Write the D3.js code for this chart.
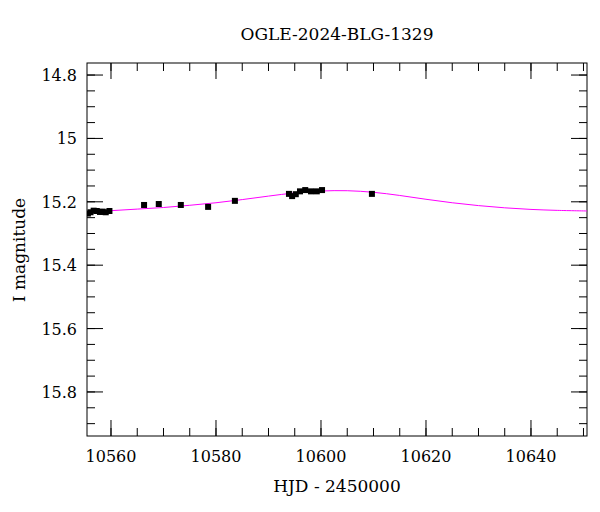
<!DOCTYPE html>
<html lang="en">
<head>
<meta charset="utf-8">
<script src="https://cdn.jsdelivr.net/npm/d3@7"></script>
<style>
  body { margin: 0; background: #fff; }
  text { font-family: "DejaVu Serif", serif; }
</style>
</head>
<body>
<script>
    var obsHjd = [10555.6, 10556.1, 10556.7, 10557.3, 10557.9, 10558.4, 10559.0, 10559.7,
        10566.3, 10569.1, 10573.3, 10578.5, 10583.6,
        10593.9, 10594.5, 10595.2, 10596.0, 10597.0, 10598.1, 10599.2, 10600.2, 10609.7];
    var obsMag = [15.237, 15.233, 15.228, 15.229, 15.232, 15.231, 15.233, 15.229,
        15.210, 15.207, 15.210, 15.216, 15.197,
        15.175, 15.182, 15.176, 15.167, 15.163, 15.167, 15.167, 15.163, 15.175];
    var obsErr = [0.008, 0.007, 0.007, 0.006, 0.006, 0.006, 0.006, 0.006,
        0.005, 0.005, 0.005, 0.005, 0.005,
        0.005, 0.006, 0.005, 0.005, 0.005, 0.005, 0.005, 0.005, 0.005];
    var modelHjd = [10555, 10560, 10565, 10570, 10575, 10580, 10585, 10590, 10595, 10600,
        10605, 10610, 10615, 10620, 10625, 10630, 10635, 10640, 10645, 10651];
    var modelMag = [15.232, 15.228, 15.223, 15.218, 15.211, 15.203, 15.193, 15.182, 15.172, 15.166,
        15.165, 15.170, 15.180, 15.192, 15.203, 15.212, 15.219, 15.224, 15.227, 15.229];
    var xTicks = [10560, 10580, 10600, 10620, 10640];
    var yTicks = [14.8, 15, 15.2, 15.4, 15.6, 15.8];

    var w = 600, h = 512;
    var m = {left: 87, right: 13, top: 63, bottom: 76};
    var iw = w - m.left - m.right, ih = h - m.top - m.bottom;

    var svg = d3.select("body").append("svg").attr("width", w).attr("height", h);
    var g = svg.append("g").attr("transform", "translate(" + m.left + "," + m.top + ")");

    var x = d3.scaleLinear().domain([10555.43, 10650.67]).range([0, iw]);
    var y = d3.scaleLinear().domain([14.762, 15.939]).range([0, ih]);

    var defs = svg.append("defs");
    defs.append("clipPath").attr("id", "clip").append("rect").attr("width", iw).attr("height", ih);

    // ticks on all four sides
    function ticks(scale, vals, len, side) {
        vals.forEach(function(v) {
            var p = scale(v);
            if (side === "x") {
                g.append("line").attr("x1", p).attr("x2", p).attr("y1", ih).attr("y2", ih - len).attr("stroke", "#000");
                g.append("line").attr("x1", p).attr("x2", p).attr("y1", 0).attr("y2", len).attr("stroke", "#000");
            } else {
                g.append("line").attr("y1", p).attr("y2", p).attr("x1", 0).attr("x2", len).attr("stroke", "#000");
                g.append("line").attr("y1", p).attr("y2", p).attr("x1", iw).attr("x2", iw - len).attr("stroke", "#000");
            }
        });
    }
    ticks(x, d3.range(10560, 10651, 5), 8, "x");
    ticks(x, xTicks, 16, "x");
    ticks(y, d3.range(14.8, 15.94, 0.05), 8, "y");
    ticks(y, yTicks, 16, "y");

    g.append("rect").attr("width", iw).attr("height", ih).attr("fill", "none").attr("stroke", "#000");

    g.selectAll(".xl").data(xTicks).enter().append("text")
        .attr("x", function(d) { return x(d); }).attr("y", ih + 26)
        .attr("text-anchor", "middle").attr("font-size", 16).text(function(d) { return d; });
    g.selectAll(".yl").data(yTicks).enter().append("text")
        .attr("x", -10).attr("y", function(d) { return y(d) + 6; })
        .attr("text-anchor", "end").attr("font-size", 16).text(function(d) { return d; });

    var line = d3.line().curve(d3.curveCatmullRom)
        .x(function(d, i) { return x(modelHjd[i]); })
        .y(function(d) { return y(d); });
    g.append("path").datum(modelMag).attr("clip-path", "url(#clip)")
        .attr("d", line).attr("fill", "none").attr("stroke", "#ff00ff").attr("stroke-width", 1);

    var pts = g.append("g").attr("clip-path", "url(#clip)");
    obsMag.forEach(function(d, i) {
        pts.append("line").attr("x1", x(obsHjd[i])).attr("x2", x(obsHjd[i]))
            .attr("y1", y(d - obsErr[i])).attr("y2", y(d + obsErr[i])).attr("stroke", "#000");
        pts.append("rect").attr("x", x(obsHjd[i]) - 3).attr("y", y(d) - 3)
            .attr("width", 6).attr("height", 6).attr("fill", "#000");
    });

    svg.append("text").attr("x", 337).attr("y", 40).attr("text-anchor", "middle")
        .attr("font-size", 17).text("OGLE-2024-BLG-1329");
    svg.append("text").attr("x", 337).attr("y", 492).attr("text-anchor", "middle")
        .attr("font-size", 17).text("HJD - 2450000");
    svg.append("text").attr("transform", "translate(25,250) rotate(-90)").attr("text-anchor", "middle")
        .attr("font-size", 17).text("I magnitude");
</script>
</body>
</html>
